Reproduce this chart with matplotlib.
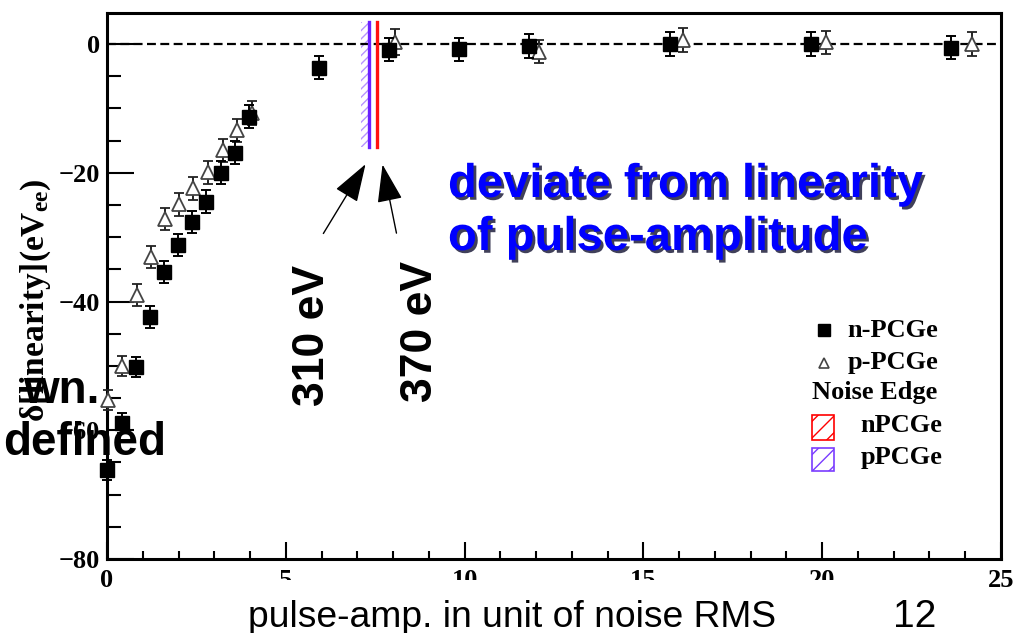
import numpy as np
import matplotlib
matplotlib.use("Agg")
from matplotlib import pyplot as plt
from matplotlib import patheffects as pe
from matplotlib.patches import Rectangle

# n-PCGe points (filled squares)
n_x = [0.0, 0.42, 0.81, 1.20, 1.59, 1.99, 2.38, 2.77, 3.19, 3.58, 3.97,
       5.92, 7.89, 9.83, 11.8, 15.75, 19.7, 23.6]
n_y = [-66.2, -58.9, -50.2, -42.4, -35.4, -31.2, -27.7, -24.5, -20.0, -16.9, -11.3,
       -3.7, -0.9, -0.8, -0.3, 0.0, 0.0, -0.6]
n_err = [1.6, 1.6, 1.6, 1.7, 1.7, 1.7, 1.7, 1.8, 1.8, 1.8, 1.8,
         1.8, 1.8, 1.8, 1.8, 1.8, 1.8, 1.8]

# p-PCGe points (open triangles)
p_x = [0.03, 0.42, 0.84, 1.23, 1.62, 2.01, 2.41, 2.82, 3.24, 3.64, 4.05,
       8.05, 12.08, 16.1, 20.1, 24.2]
p_y = [-55.3, -50.0, -39.0, -33.1, -27.2, -24.9, -22.4, -19.9, -16.5, -13.4, -10.7,
       0.3, -1.2, 0.6, 0.3, 0.0]
p_err = [1.6, 1.6, 1.7, 1.7, 1.7, 1.8, 1.8, 1.8, 1.8, 1.8, 1.8,
         2.0, 1.8, 1.9, 1.8, 1.8]

# noise edges (pulse-amp / noise RMS)
edge_n = 7.54
edge_p = 7.33
edge_hatch = 0.23
edge_y = [-16.0, 3.4]

W, H = 1014, 633
plt.rcParams["font.family"] = ["Liberation Serif", "DejaVu Serif"]
plt.rcParams["font.weight"] = "bold"
plt.rcParams["mathtext.fontset"] = "custom"
plt.rcParams["mathtext.rm"] = "Liberation Serif:bold"
plt.rcParams["mathtext.it"] = "Liberation Serif:bold"

fig = plt.figure(figsize=(W / 100, H / 100), dpi=100)
ax = fig.add_axes([107 / W, 1 - 559 / H, 894 / W, 546.5 / H])

ax.plot([0, 25], [0, 0], "k--", lw=1.6, dashes=(4, 2), zorder=2)

ax.errorbar(n_x, n_y, yerr=n_err, fmt="s", color="k", ms=9.5, capsize=3.5,
            elinewidth=1.4, capthick=1.4, clip_on=False, zorder=4)
ax.errorbar(p_x, p_y, yerr=p_err, fmt="^", color="#222222", mfc="white",
            mec="#444444", mew=1.3, ms=10, capsize=3.5,
            elinewidth=1.4, capthick=1.4, clip_on=False, zorder=3)

# noise edge bands
ax.fill_betweenx(edge_y, edge_p - edge_hatch, edge_p, facecolor="none",
                 edgecolor="#b794ff", hatch="////", lw=0)
ax.plot([edge_p, edge_p], edge_y, color="#6a20ff", lw=2.4)
ax.plot([edge_n, edge_n], edge_y, color="#ff1010", lw=2.4)

ax.set_xlim(0, 25)
ax.set_ylim(-80, 4.9)
ax.set_xticks([0, 5, 10, 15, 20, 25])
ax.set_xticks(np.arange(0, 26, 1), minor=True)
ax.set_yticks([-80, -60, -40, -20, 0])
ax.set_yticks(np.arange(-80, 1, 5), minor=True)
ax.tick_params(axis="x", which="major", direction="in", length=12, width=1.5,
               pad=7, labelsize=19)
ax.tick_params(axis="x", which="minor", direction="in", length=6, width=1.5)
ax.tick_params(axis="y", which="major", direction="in", length=19.5, width=1.5,
               pad=5, labelsize=19)
ax.tick_params(axis="y", which="minor", direction="in", length=10, width=1.5)
for s in ax.spines.values():
    s.set_linewidth(2.2)

# legend drawn by hand (ROOT style)
ax.plot([0.802], [0.419], "s", color="k", ms=9, transform=ax.transAxes)
ax.plot([0.802], [0.359], "^", mfc="white", mec="#444444", mew=1.2, ms=7,
        transform=ax.transAxes)
ax.text(0.828, 0.419, "n-PCGe", transform=ax.transAxes, va="center", fontsize=19)
ax.text(0.828, 0.359, "p-PCGe", transform=ax.transAxes, va="center", fontsize=19)
ax.text(0.789, 0.304, "Noise Edge", transform=ax.transAxes, va="center", fontsize=19)
ax.add_patch(Rectangle((0.789, 0.218), 0.024, 0.045, transform=ax.transAxes,
                       fill=False, edgecolor="red", hatch="//", lw=1.2))
ax.add_patch(Rectangle((0.789, 0.161), 0.024, 0.042, transform=ax.transAxes,
                       fill=False, edgecolor="#7a3cff", hatch="//", lw=1.2))
ax.text(0.843, 0.245, "nPCGe", transform=ax.transAxes, va="center", fontsize=19)
ax.text(0.843, 0.185, "pPCGe", transform=ax.transAxes, va="center", fontsize=19)

fig.text(36 / W, 1 - 300 / H, r"δ[linearity](eV$_{\mathrm{ee}}$)", rotation=90,
         ha="center", va="center", fontsize=24)

# slide annotations
sans = ["Liberation Sans", "DejaVu Sans"]
ax.annotate("", xy=(7.27, -18.3), xytext=(6.01, -29.8), annotation_clip=False,
            arrowprops=dict(arrowstyle="-|>,head_length=1.2,head_width=0.4",
                            mutation_scale=20, color="k", lw=1))
ax.annotate("", xy=(7.69, -18.3), xytext=(8.11, -29.8), annotation_clip=False,
            arrowprops=dict(arrowstyle="-|>,head_length=1.2,head_width=0.4",
                            mutation_scale=20, color="k", lw=1))
fig.text(313 / W, 1 - 335 / H, "310 eV", rotation=90, ha="center", va="center",
         fontsize=32, family=sans, weight="bold")
fig.text(420 / W, 1 - 331 / H, "370 eV", rotation=90, ha="center", va="center",
         fontsize=32, family=sans, weight="bold")

shadow = [pe.withSimplePatchShadow(offset=(2, -2), shadow_rgbFace="#000022", alpha=0.75)]
fig.text(448 / W, 1 - 197 / H, "deviate from linearity", ha="left", va="baseline",
         fontsize=34, family=sans, weight="bold", color="#0000ff", path_effects=shadow)
fig.text(448 / W, 1 - 250 / H, "of pulse-amplitude", ha="left", va="baseline",
         fontsize=34, family=sans, weight="bold", color="#0000ff", path_effects=shadow)

fig.text(100 / W, 1 - 403 / H, "wn.", ha="right", va="baseline",
         fontsize=33, family=sans, weight="bold")
fig.text(166 / W, 1 - 455 / H, "defined", ha="right", va="baseline",
         fontsize=33, family=sans, weight="bold")

# white text box of the slide hides part of the tick labels
fig.patches.append(Rectangle((240 / W, 0), 720 / W, 53 / H, transform=fig.transFigure,
                             facecolor="white", edgecolor="none", zorder=5))
fig.text(248 / W, 1 - 627 / H, "pulse-amp. in unit of noise RMS", ha="left",
         va="baseline", fontsize=26.8, family=sans, weight="normal", zorder=6)
fig.text(893 / W, 1 - 627 / H, "12", ha="left", va="baseline",
         fontsize=28, family=sans, weight="normal", zorder=6)

fig.savefig("out.png", dpi=100)
